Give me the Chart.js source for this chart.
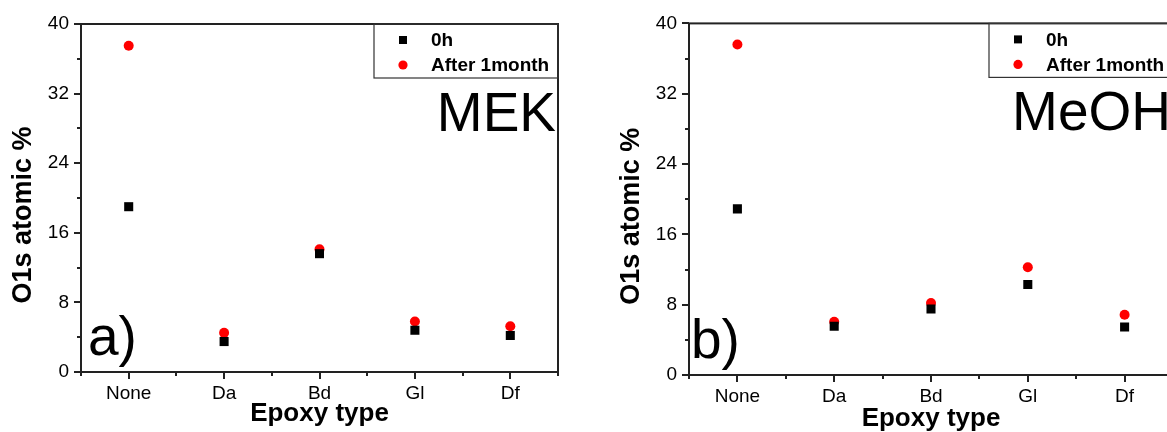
<!DOCTYPE html>
<html>
<head>
<meta charset="utf-8">
<script src="https://cdn.jsdelivr.net/npm/chart.js@4"></script>
<style>
  html, body { margin: 0; padding: 0; background: #fff; overflow: hidden; }
  body { width: 1167px; height: 432px; position: relative; }
  canvas { position: absolute; top: 0; }
  #chartA { left: 0; }
  #chartB { left: 580px; }
</style>
</head>
<body>
<canvas id="chartA" width="580" height="432"></canvas>
<canvas id="chartB" width="610" height="432"></canvas>
<script>
const categories = ["None", "Da", "Bd", "Gl", "Df"]
const yTicks = [0, 8, 16, 24, 32, 40]
const seriesNames = ["0h", "After 1month"]

// O1s atomic %
const mek0h = [19.0, 3.5, 13.6, 4.8, 4.2]
const mek1month = [37.5, 4.5, 14.1, 5.8, 5.25]
const meoh0h = [18.9, 5.55, 7.5, 10.3, 5.45]
const meoh1month = [37.6, 6.05, 8.2, 12.25, 6.85]

const FONT = "'Liberation Sans', Arial, sans-serif"

const panelPlugin = {
  id: "panel",
  afterDraw(chart, args, opts) {
    const ctx = chart.ctx
    const { left, right, top, bottom } = chart.chartArea
    const xs = chart.scales.x
    const ys = chart.scales.y
    ctx.save()

    // frame + outward ticks
    ctx.strokeStyle = "#222"
    ctx.lineWidth = 2
    ctx.strokeRect(left, top, right - left, bottom - top)
    ctx.beginPath()
    for (let v = xs.min; v <= xs.max + 1e-6; v += 0.5) {
      const px = Math.round(xs.getPixelForValue(v))
      const len = Number.isInteger(v) ? 7 : 4
      ctx.moveTo(px, bottom)
      ctx.lineTo(px, bottom + len)
    }
    for (let v = ys.min; v <= ys.max; v += 4) {
      const py = Math.round(ys.getPixelForValue(v))
      const len = v % 8 === 0 ? 7 : 4
      ctx.moveTo(left, py)
      ctx.lineTo(left - len, py)
    }
    ctx.stroke()

    // legend box in the top right corner
    const bw = 184, bh = 54
    ctx.lineWidth = 1.2
    ctx.strokeStyle = "#333"
    ctx.strokeRect(right - bw, top, bw, bh)
    ctx.font = "bold 19px " + FONT
    ctx.textBaseline = "middle"
    ctx.textAlign = "left"
    chart.data.datasets.forEach((ds, i) => {
      const cy = top + 16 + i * 25
      const mx = right - 155
      ctx.fillStyle = ds.backgroundColor
      if (ds.pointStyle === "rect") {
        ctx.fillRect(mx - 4, cy - 4, 8, 8)
      } else {
        ctx.beginPath()
        ctx.arc(mx, cy, 4.6, 0, Math.PI * 2)
        ctx.fill()
      }
      ctx.fillStyle = "#000"
      ctx.fillText(ds.label, right - 127, cy + 1)
    })

    // solvent and panel tag
    ctx.fillStyle = "#000"
    ctx.font = "55px " + FONT
    ctx.textBaseline = "alphabetic"
    ctx.textAlign = "right"
    ctx.fillText(opts.solvent, right - 2, top + 107)
    ctx.textAlign = "left"
    ctx.fillText(opts.tag, left + opts.tagX, bottom - 17)

    // y axis title
    ctx.translate(left - 57, (top + bottom) / 2 + 17)
    ctx.rotate(-Math.PI / 2)
    ctx.font = "bold 27px " + FONT
    ctx.textAlign = "center"
    ctx.textBaseline = "middle"
    ctx.fillText("O1s atomic %", 0, 0)
    ctx.restore()
  }
}

function makeChart(id, zeroH, oneMonth, cfg) {
  return new Chart(document.getElementById(id), {
    type: "scatter",
    data: {
      datasets: [
        {
          label: seriesNames[0],
          data: zeroH.map((v, i) => ({ x: i + 1, y: v })),
          pointStyle: "rect",
          pointRadius: 6.4,
          backgroundColor: "#000",
          borderWidth: 0,
        },
        {
          label: seriesNames[1],
          data: oneMonth.map((v, i) => ({ x: i + 1, y: v })),
          pointStyle: "circle",
          pointRadius: 5,
          backgroundColor: "#ff0000",
          borderWidth: 0,
        },
      ]
    },
    options: {
      responsive: false,
      animation: false,
      devicePixelRatio: 1,
      layout: { padding: { left: 0, top: cfg.top, right: cfg.right, bottom: 0 } },
      plugins: {
        legend: { display: false },
        tooltip: { enabled: false },
        panel: { solvent: cfg.solvent, tag: cfg.tag, tagX: cfg.tagX },
      },
      scales: {
        x: {
          type: "linear",
          min: 0.5,
          max: 5.5,
          grid: { display: false, drawTicks: false },
          border: { display: false },
          afterBuildTicks: (s) => { s.ticks = categories.map((c, i) => ({ value: i + 1 })) },
          afterFit: (s) => { s.height = cfg.xh },
          ticks: {
            padding: 10,
            color: "#000",
            font: { family: FONT, size: 19 },
            callback: (v) => categories[v - 1] ?? "",
          },
          title: {
            display: true,
            text: "Epoxy type",
            color: "#000",
            font: { family: FONT, size: 26, weight: "bold", lineHeight: 1 },
            padding: { top: 0, bottom: cfg.titlePad },
          },
        },
        y: {
          min: 0,
          max: 40,
          grid: { display: false, drawTicks: false },
          border: { display: false },
          afterBuildTicks: (s) => { s.ticks = yTicks.map(v => ({ value: v })) },
          afterFit: (s) => { s.width = cfg.yw },
          ticks: {
            padding: 12,
            color: "#000",
            font: { family: FONT, size: 19 },
          },
        },
      }
    },
    plugins: [panelPlugin]
  })
}

makeChart("chartA", mek0h, mek1month, {
  top: 24, right: 22, xh: 60, yw: 81, titlePad: 5, solvent: "MEK", tag: "a)", tagX: 7
})
makeChart("chartB", meoh0h, meoh1month, {
  top: 22, right: 17, xh: 57, yw: 109, titlePad: 0, solvent: "MeOH", tag: "b)", tagX: 2
})
</script>
</body>
</html>
